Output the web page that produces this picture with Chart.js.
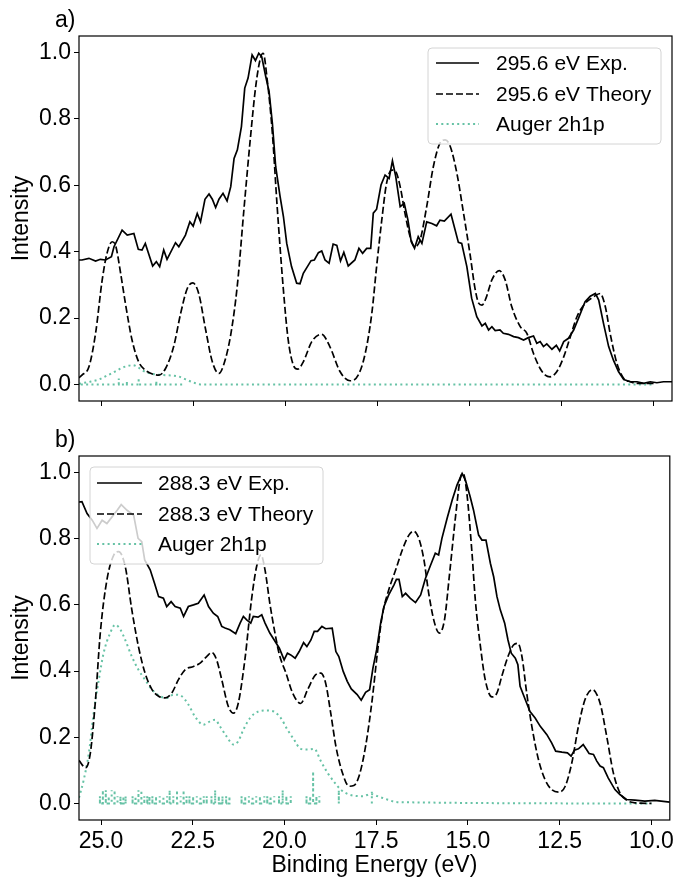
<!DOCTYPE html>
<html>
<head>
<meta charset="utf-8">
<script src="https://cdn.jsdelivr.net/npm/chart.js@4"></script>
<style>
  body { margin: 0; background: #fff; }
  #wrap { position: relative; width: 677px; height: 877px; }
  .panel { position: absolute; left: 0; width: 677px; }
</style>
</head>
<body>
<div id="wrap">
  <div class="panel" style="top:0;height:420px"><canvas id="chartA"></canvas></div>
  <div class="panel" style="top:420px;height:457px"><canvas id="chartB"></canvas></div>
</div>
<script>
// axis ticks
const xTicks = [25, 22.5, 20, 17.5, 15, 12.5, 10];
const yTicks = [0, 0.2, 0.4, 0.6, 0.8, 1.0];

// panel a) 295.6 eV
const aExpE = [25.6, 25.52, 25.33, 25.15, 25.02, 24.88, 24.72, 24.65, 24.43, 24.29,
  24.11, 23.99, 23.89, 23.8, 23.6, 23.5, 23.41, 23.3, 23.21, 22.98,
  22.89, 22.71, 22.59, 22.5, 22.39, 22.3, 22.18, 22.07, 21.98, 21.89,
  21.8, 21.69, 21.58, 21.48, 21.39, 21.3, 21.19, 21.1, 21.01, 20.9,
  20.81, 20.72, 20.64, 20.53, 20.44, 20.35, 20.26, 20.14, 20.05, 19.96,
  19.83, 19.69, 19.6, 19.51, 19.3, 19.21, 19.1, 19.01, 18.92, 18.81,
  18.7, 18.6, 18.5, 18.41, 18.29, 18.11, 18.0, 17.9, 17.79, 17.68,
  17.61, 17.52, 17.4, 17.29, 17.18, 17.09, 17.0, 16.88, 16.77, 16.67,
  16.58, 16.49, 16.39, 16.29, 16.16, 16.02, 15.89, 15.8, 15.68, 15.5,
  15.3, 15.21, 15.07, 14.94, 14.8, 14.66, 14.57, 14.48, 14.39, 14.3,
  14.17, 14.08, 13.94, 13.8, 13.67, 13.53, 13.4, 13.26, 13.17, 13.08,
  12.99, 12.9, 12.76, 12.64, 12.55, 12.44, 12.31, 12.17, 12.04, 11.86,
  11.72, 11.58, 11.49, 11.36, 11.22, 11.09, 10.95, 10.81, 10.63, 10.45,
  10.27, 10.09, 9.91, 9.73, 9.5];
const aExpI = [0.375, 0.375, 0.38, 0.372, 0.377, 0.375, 0.385, 0.415, 0.465, 0.45,
  0.455, 0.407, 0.405, 0.425, 0.357, 0.37, 0.355, 0.405, 0.377, 0.427,
  0.415, 0.45, 0.49, 0.477, 0.515, 0.49, 0.558, 0.574, 0.558, 0.533,
  0.558, 0.576, 0.553, 0.596, 0.681, 0.707, 0.777, 0.893, 0.923, 0.993,
  0.976, 0.998, 0.988, 0.928, 0.883, 0.787, 0.656, 0.566, 0.506, 0.425,
  0.355, 0.305, 0.303, 0.335, 0.373, 0.375, 0.397, 0.402, 0.375, 0.365,
  0.423, 0.419, 0.372, 0.398, 0.357, 0.375, 0.41, 0.395, 0.41, 0.41,
  0.516, 0.528, 0.601, 0.631, 0.621, 0.674, 0.626, 0.536, 0.546, 0.496,
  0.43, 0.41, 0.445, 0.425, 0.49, 0.485, 0.478, 0.495, 0.492, 0.513,
  0.428, 0.425, 0.355, 0.26, 0.204, 0.176, 0.184, 0.164, 0.174, 0.162,
  0.164, 0.154, 0.151, 0.144, 0.141, 0.134, 0.141, 0.146, 0.124, 0.129,
  0.114, 0.122, 0.106, 0.118, 0.101, 0.129, 0.139, 0.164, 0.199, 0.249,
  0.266, 0.274, 0.254, 0.184, 0.114, 0.073, 0.038, 0.015, 0.008, 0.008,
  0.003, 0.008, 0.005, 0.008, 0.008];

const aThE = [25.6, 25.52, 25.33, 25.15, 24.97, 24.84, 24.7, 24.61, 24.47, 24.34,
  24.16, 23.98, 23.8, 23.57, 23.43, 23.25, 23.03, 22.84, 22.66, 22.51,
  22.35, 22.16, 21.98, 21.8, 21.67, 21.48, 21.3, 21.12, 20.94, 20.8,
  20.67, 20.6, 20.49, 20.35, 20.22, 20.05, 19.92, 19.78, 19.66, 19.51,
  19.28, 19.01, 18.79, 18.51, 18.24, 18.02, 17.83, 17.65, 17.52, 17.38,
  17.25, 17.11, 17.0, 16.88, 16.75, 16.61, 16.48, 16.34, 16.16, 15.98,
  15.8, 15.66, 15.52, 15.34, 15.16, 14.98, 14.85, 14.75, 14.66, 14.55,
  14.39, 14.19, 14.03, 13.85, 13.62, 13.44, 13.26, 13.08, 12.94, 12.81,
  12.63, 12.44, 12.26, 12.08, 11.86, 11.63, 11.45, 11.31, 11.18, 10.995,
  10.81, 10.63, 10.45, 10.0];
const aThI = [0.02, 0.028, 0.053, 0.154, 0.315, 0.395, 0.43, 0.42, 0.335, 0.244,
  0.134, 0.068, 0.043, 0.03, 0.028, 0.048, 0.114, 0.214, 0.289, 0.306,
  0.274, 0.164, 0.068, 0.033, 0.06, 0.15, 0.3, 0.53, 0.75, 0.9,
  0.985, 0.998, 0.918, 0.757, 0.536, 0.284, 0.134, 0.058, 0.046, 0.068,
  0.129, 0.151, 0.114, 0.038, 0.011, 0.028, 0.093, 0.214, 0.355, 0.495,
  0.606, 0.646, 0.641, 0.596, 0.516, 0.445, 0.415, 0.435, 0.536, 0.656,
  0.727, 0.737, 0.717, 0.636, 0.516, 0.39, 0.29, 0.245, 0.239, 0.26,
  0.315, 0.343, 0.315, 0.234, 0.174, 0.154, 0.093, 0.048, 0.028, 0.023,
  0.038, 0.083, 0.144, 0.204, 0.244, 0.264, 0.274, 0.234, 0.154, 0.063,
  0.018, 0.008, 0.003, 0.003];

const aAugE = [25.6, 25.3, 25.06, 24.85, 24.7, 24.55, 24.43, 24.3, 24.14, 24.0,
  23.87, 23.7, 23.5, 23.3, 23.1, 22.9, 22.7, 22.5, 22.3, 10.0];
const aAugI = [0.002, 0.008, 0.015, 0.026, 0.034, 0.043, 0.05, 0.055, 0.058, 0.052,
  0.042, 0.034, 0.03, 0.028, 0.027, 0.024, 0.015, 0.006, 0.0, 0.0];

// stick spectra (null = gap between groups)
const aStickE = [25.55, 24.52, 24.3, 23.98, 23.5, 22.75];
const aStickH = [0.0, 0.018, 0.01, 0.02, 0.01, 0.0];

// panel b) 288.3 eV
const bExpE = [25.6, 25.52, 25.38, 25.24, 25.11, 24.97, 24.84, 24.7, 24.56, 24.45,
  24.29, 24.11, 23.99, 23.89, 23.81, 23.66, 23.54, 23.43, 23.3, 23.21,
  23.09, 22.98, 22.84, 22.75, 22.62, 22.48, 22.35, 22.19, 22.07, 21.94,
  21.82, 21.71, 21.62, 21.49, 21.33, 21.21, 21.12, 21.03, 20.92, 20.85,
  20.72, 20.62, 20.53, 20.4, 20.28, 20.14, 20.01, 19.92, 19.83, 19.71,
  19.6, 19.48, 19.39, 19.28, 19.19, 19.1, 18.98, 18.88, 18.7, 18.6,
  18.52, 18.4, 18.29, 18.18, 18.02, 17.91, 17.79, 17.68, 17.59, 17.49,
  17.38, 17.29, 17.16, 17.02, 16.95, 16.88, 16.79, 16.7, 16.57, 16.43,
  16.29, 16.16, 16.02, 15.89, 15.8, 15.71, 15.57, 15.43, 15.3, 15.16,
  15.07, 14.94, 14.85, 14.71, 14.62, 14.51, 14.39, 14.3, 14.21, 14.12,
  14.0, 13.91, 13.82, 13.71, 13.64, 13.58, 13.44, 13.31, 13.17, 13.03,
  12.85, 12.72, 12.61, 12.44, 12.29, 12.19, 12.1, 11.99, 11.86, 11.77,
  11.7, 11.58, 11.49, 11.4, 11.31, 11.18, 10.995, 10.86, 10.68, 10.45,
  10.18, 9.91, 9.5];
const bExpI = [0.911, 0.912, 0.876, 0.856, 0.831, 0.856, 0.846, 0.866, 0.886, 0.903,
  0.886, 0.871, 0.801, 0.791, 0.736, 0.706, 0.665, 0.625, 0.62, 0.595,
  0.61, 0.595, 0.59, 0.565, 0.595, 0.6, 0.605, 0.63, 0.595, 0.575,
  0.565, 0.535, 0.53, 0.525, 0.513, 0.545, 0.565, 0.555, 0.545, 0.565,
  0.563, 0.57, 0.545, 0.515, 0.494, 0.469, 0.434, 0.454, 0.449, 0.439,
  0.459, 0.486, 0.474, 0.494, 0.52, 0.52, 0.535, 0.528, 0.53, 0.459,
  0.444, 0.399, 0.369, 0.346, 0.329, 0.312, 0.336, 0.344, 0.409, 0.464,
  0.545, 0.595, 0.63, 0.66, 0.677, 0.677, 0.625, 0.635, 0.62, 0.607,
  0.63, 0.68, 0.72, 0.756, 0.751, 0.801, 0.861, 0.917, 0.962, 0.997,
  0.977, 0.927, 0.887, 0.811, 0.796, 0.796, 0.726, 0.685, 0.625, 0.585,
  0.545, 0.494, 0.454, 0.439, 0.419, 0.354, 0.314, 0.278, 0.258, 0.233,
  0.208, 0.183, 0.158, 0.155, 0.153, 0.143, 0.161, 0.165, 0.178, 0.163,
  0.151, 0.148, 0.128, 0.113, 0.108, 0.077, 0.042, 0.027, 0.012, 0.01,
  0.007, 0.009, 0.004];

const bThE = [25.6, 25.42, 25.29, 25.15, 25.02, 24.84, 24.65, 24.52, 24.34, 24.16,
  23.98, 23.8, 23.61, 23.43, 23.25, 23.07, 22.89, 22.71, 22.48, 22.3,
  22.12, 21.98, 21.85, 21.71, 21.53, 21.39, 21.26, 21.08, 20.9, 20.76,
  20.64, 20.53, 20.4, 20.26, 20.14, 19.96, 19.78, 19.56, 19.37, 19.15,
  19.01, 18.88, 18.74, 18.6, 18.42, 18.24, 18.11, 17.97, 17.79, 17.61,
  17.47, 17.34, 17.16, 16.97, 16.79, 16.61, 16.48, 16.34, 16.2, 16.07,
  15.91, 15.78, 15.64, 15.5, 15.34, 15.21, 15.13, 15.03, 14.89, 14.8,
  14.66, 14.53, 14.35, 14.21, 14.08, 13.91, 13.76, 13.64, 13.53, 13.4,
  13.26, 13.08, 12.9, 12.72, 12.52, 12.35, 12.17, 11.99, 11.81, 11.61,
  11.4, 11.22, 11.04, 10.86, 10.68, 10.45, 10.0];
const bThI = [0.13, 0.108, 0.153, 0.314, 0.515, 0.675, 0.751, 0.761, 0.716, 0.585,
  0.474, 0.394, 0.344, 0.324, 0.319, 0.334, 0.374, 0.404, 0.414, 0.424,
  0.444, 0.456, 0.434, 0.374, 0.293, 0.273, 0.303, 0.434, 0.615, 0.716,
  0.751, 0.705, 0.605, 0.515, 0.45, 0.394, 0.334, 0.302, 0.344, 0.389,
  0.394, 0.364, 0.273, 0.173, 0.092, 0.052, 0.054, 0.082, 0.173, 0.314,
  0.454, 0.565, 0.645, 0.706, 0.766, 0.811, 0.823, 0.801, 0.736, 0.635,
  0.545, 0.515, 0.555, 0.696, 0.866, 0.982, 0.997, 0.937, 0.756, 0.615,
  0.474, 0.374, 0.322, 0.334, 0.384, 0.444, 0.479, 0.484, 0.444, 0.334,
  0.233, 0.133, 0.072, 0.042, 0.034, 0.052, 0.123, 0.233, 0.314, 0.344,
  0.303, 0.203, 0.093, 0.032, 0.01, 0.002, 0.0];

const bAugE = [25.6, 25.47, 25.33, 25.2, 25.06, 24.93, 24.75, 24.61, 24.47, 24.34,
  24.16, 23.98, 23.8, 23.61, 23.39, 23.21, 23.02, 22.8, 22.62, 22.44,
  22.21, 22.03, 21.89, 21.76, 21.58, 21.39, 21.26, 21.12, 20.94, 20.71,
  20.49, 20.28, 20.1, 19.92, 19.74, 19.56, 19.37, 19.19, 19.01, 18.83,
  18.64, 18.47, 18.24, 17.85, 17.65, 17.47, 17.2, 16.93, 10.0];
const bAugI = [0.017, 0.072, 0.153, 0.273, 0.374, 0.454, 0.515, 0.54, 0.525, 0.494,
  0.444, 0.404, 0.374, 0.344, 0.324, 0.319, 0.329, 0.324, 0.299, 0.263,
  0.238, 0.248, 0.253, 0.233, 0.203, 0.178, 0.188, 0.223, 0.258, 0.278,
  0.281, 0.277, 0.258, 0.223, 0.193, 0.165, 0.163, 0.165, 0.128, 0.093,
  0.064, 0.042, 0.027, 0.022, 0.029, 0.022, 0.012, 0.004, 0.0];

const bStickE = [25.03, 24.95, 24.87, 24.79, 24.71, 24.63, 24.55, 24.47, 24.39, 24.33, 24.24,
  24.14, 24.06, 23.98, 23.9, 23.82, 23.74, 23.68, 23.64,
  23.6, 23.5, 23.4, 23.3, 23.2, 23.16,
  23.13, 23.03, 22.93, 22.83, 22.75, 22.67, 22.63,
  22.59, 22.49, 22.39, 22.29, 22.2, 22.12, 22.05,
  21.99, 21.89, 21.79, 21.69, 21.59, 21.5, 21.3,
  21.17, 21.07, 20.97, 20.87, 20.77, 20.67, 20.55, 20.51,
  20.47, 20.38, 20.28, 20.2,
  20.15, 20.05, 19.95, 19.83, 19.6,
  19.4, 19.3, 19.22, 19.13, 19.05, 18.8,
  18.52, 18.0,
  17.62];
const bStickH = [0.022, 0.04, 0.04, 0.022, 0.04, 0.04, 0.022, 0.022, 0.022, 0.022, null,
  0.022, 0.022, 0.04, 0.04, 0.022, 0.022, 0.022, null,
  0.022, 0.022, 0.022, 0.022, 0.022, null,
  0.04, 0.022, 0.04, 0.022, 0.04, 0.022, null,
  0.022, 0.022, 0.022, 0.022, 0.022, 0.022, null,
  0.022, 0.04, 0.022, 0.022, 0.022, 0.022, null,
  0.022, 0.022, 0.022, 0.022, 0.022, 0.022, 0.022, null,
  0.022, 0.022, 0.022, null,
  0.022, 0.04, 0.022, 0.022, null,
  0.022, 0.022, 0.097, 0.022, 0.022, null,
  0.04, null,
  0.035];

const FONT = "'Liberation Sans', Arial, sans-serif";
const augerColor = '#66c2a5';

function pts(xs, ys) {
  return xs.map((x, i) => ({ x: x, y: ys[i] }));
}
function sticks(es, hs) {
  const out = [];
  es.forEach((e, i) => {
    if (hs[i] === null) { out.push({ x: e, y: null }); return; }
    out.push({ x: e, y: 0 }, { x: e, y: hs[i] }, { x: e, y: 0 });
  });
  return out;
}

function datasets(energy, expE, expI, thE, thI, augE, augI, stE, stH) {
  return [
    { label: energy + ' eV Exp.', data: pts(expE, expI), borderColor: '#000',
      borderWidth: 1.7, tension: 0 },
    { label: energy + ' eV Theory', data: pts(thE, thI), borderColor: '#000',
      borderWidth: 1.7, borderDash: [7, 3], cubicInterpolationMode: 'monotone' },
    { label: 'Auger 2h1p', data: pts(augE, augI), borderColor: augerColor,
      borderWidth: 2, borderDash: [2, 3.3], cubicInterpolationMode: 'monotone' },
    { label: '', data: sticks(stE, stH), borderColor: augerColor,
      borderWidth: 2, borderDash: [2, 3.3], tension: 0, spanGaps: false }
  ];
}

function decor(letter, letterY, lg) {
  return {
    id: 'decor',
    afterDatasetsDraw(chart) {
      const ctx = chart.ctx;
      ctx.save();
      ctx.beginPath();
      ctx.roundRect(lg.x, lg.y, lg.w, lg.h, 4);
      ctx.fillStyle = 'rgba(255,255,255,0.8)';
      ctx.fill();
      ctx.strokeStyle = '#d4d4d4';
      ctx.lineWidth = 1;
      ctx.stroke();
      ctx.font = '21px ' + FONT;
      ctx.textBaseline = 'middle';
      [0, 1, 2].forEach((k, i) => {
        const ds = chart.data.datasets[k];
        const y = lg.rows[i];
        ctx.beginPath();
        ctx.setLineDash(ds.borderDash || []);
        ctx.strokeStyle = ds.borderColor;
        ctx.lineWidth = ds.borderWidth;
        ctx.moveTo(lg.x0, y);
        ctx.lineTo(lg.x1, y);
        ctx.stroke();
        ctx.setLineDash([]);
        ctx.fillStyle = '#000';
        ctx.fillText(ds.label, lg.tx, y + 1);
      });
      ctx.restore();
    },
    afterDraw(chart) {
      const ctx = chart.ctx;
      const a = chart.chartArea;
      ctx.save();
      ctx.strokeStyle = '#000';
      ctx.lineWidth = 1.2;
      ctx.strokeRect(a.left, a.top, a.right - a.left, a.bottom - a.top);
      ctx.fillStyle = '#000';
      ctx.font = '23px ' + FONT;
      ctx.textBaseline = 'alphabetic';
      ctx.fillText(letter, 55, letterY);
      ctx.restore();
    }
  };
}

function makeChart(id, ds, showX, axisH, plugin) {
  return new Chart(document.getElementById(id), {
    type: 'line',
    data: { datasets: ds },
    options: {
      responsive: true,
      maintainAspectRatio: false,
      animation: false,
      layout: { padding: { left: 0, right: 5, top: 36, bottom: 0 } },
      elements: { point: { radius: 0 } },
      plugins: { legend: { display: false }, tooltip: { enabled: false } },
      scales: {
        x: {
          type: 'linear', reverse: true, min: 9.5, max: 25.6,
          afterBuildTicks: s => { s.ticks = xTicks.map(v => ({ value: v })); },
          afterFit: s => { s.height = axisH; },
          ticks: {
            display: showX, color: '#000', padding: 3, autoSkip: false, maxRotation: 0,
            font: { family: FONT, size: 23 },
            callback: v => v.toFixed(1)
          },
          grid: { drawOnChartArea: false, drawTicks: true, tickLength: 5, tickColor: '#000', tickWidth: 1 },
          border: { display: false },
          title: {
            display: showX, text: 'Binding Energy (eV)', color: '#000',
            font: { family: FONT, size: 23, lineHeight: 1 }, padding: { top: 0, bottom: 0 }
          }
        },
        y: {
          type: 'linear', min: -0.05, max: 1.05,
          afterBuildTicks: s => { s.ticks = yTicks.map(v => ({ value: v })); },
          afterFit: s => { s.width = 79; },
          ticks: {
            color: '#000', padding: 3,
            font: { family: FONT, size: 23 },
            callback: v => v.toFixed(1)
          },
          grid: { drawOnChartArea: false, drawTicks: true, tickLength: 5, tickColor: '#000', tickWidth: 1 },
          border: { display: false },
          title: {
            display: true, text: 'Intensity', color: '#000',
            font: { family: FONT, size: 23 }, padding: { top: 8, bottom: 0 }
          }
        }
      }
    },
    plugins: [plugin]
  });
}

makeChart('chartA',
  datasets('295.6', aExpE, aExpI, aThE, aThI, aAugE, aAugI, aStickE, aStickH),
  false, 19,
  decor('a)', 27, { x: 428, y: 48, w: 233, h: 96, rows: [63, 94, 124], x0: 436, x1: 479, tx: 496 }));

makeChart('chartB',
  datasets('288.3', bExpE, bExpI, bThE, bThI, bAugE, bAugI, bStickE, bStickH),
  true, 57,
  decor('b)', 27, { x: 90, y: 47, w: 233, h: 97, rows: [63, 94, 124], x0: 97, x1: 142, tx: 158 }));
</script>
</body>
</html>
